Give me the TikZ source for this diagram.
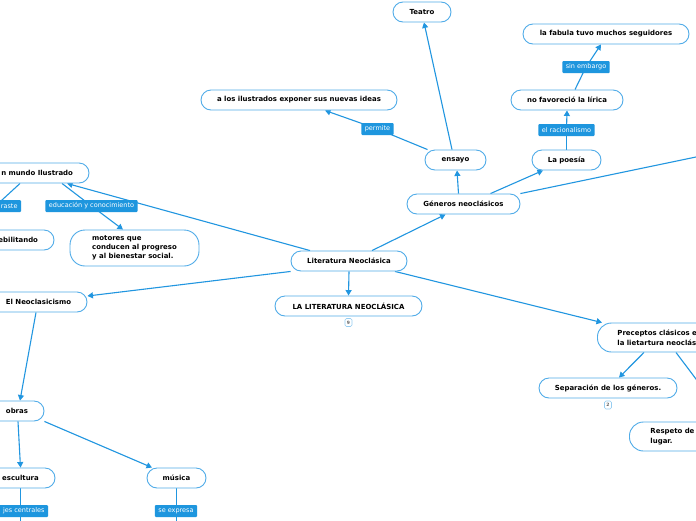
\documentclass[tikz,border=0pt]{standalone}
\usepackage{fontspec}
\setmainfont{DejaVu Sans}
\usetikzlibrary{arrows.meta,backgrounds}
\definecolor{nodeb}{RGB}{80,172,232}
\definecolor{linec}{RGB}{33,150,224}
\definecolor{labf}{RGB}{30,150,222}
\begin{document}
\begin{tikzpicture}[x=1pt,y=-1pt,
  box/.style={draw=nodeb, line width=0.9pt, fill=white, rounded corners=10pt, minimum height=20pt, inner xsep=8pt, inner ysep=0pt, font=\fontsize{6.95}{8}\selectfont\bfseries, text=black},
  lab/.style={fill=labf, text=white, rounded corners=1pt, minimum height=12pt, inner xsep=3.5pt, inner ysep=0pt, font=\fontsize{6.5}{7}\selectfont},
  conn/.style={draw=linec, line width=1.1pt},
  arr/.style={conn, -{Triangle[length=5.5pt,width=6pt]}},
  badge/.style={draw=nodeb!60, line width=0.6pt, rounded corners=1.5pt, minimum width=7pt, minimum height=8pt, inner sep=0pt, font=\fontsize{4.5}{5}\selectfont\bfseries, text=black!60}]
\useasboundingbox (0,0) rectangle (696,520);
% nodes
\node[box, minimum width=58pt] (tea) at (422,12) {Teatro};
\node[box, minimum width=166pt] (fab) at (606,34) {la fabula tuvo muchos seguidores};
\node[box, minimum width=196pt] (ilu) at (299,100) {a los ilustrados exponer sus nuevas ideas};
\node[box, minimum width=112pt] (nof) at (567,100) {no favoreció la lírica};
\node[box, minimum width=61pt] (ens) at (455.5,160) {ensayo};
\node[box, minimum width=69pt] (poe) at (566.5,160) {La poesía};
\node[box, minimum width=113pt] (gen) at (463.5,204) {Géneros neoclásicos};
\node[box, minimum width=119pt, text width=87pt, align=right, inner xsep=16pt] (mun) at (29.5,173) {n mundo Ilustrado};
\node[box, minimum width=84pt, text width=52pt, align=right, inner xsep=16pt] (deb) at (12,240) {ebilitando};
\node[box, minimum width=129pt, minimum height=36pt, align=left, rounded corners=15pt, font=\fontsize{6.95}{9}\selectfont\bfseries] (mot) at (134.5,248) {motores que\\conducen al progreso\\y al bienestar social.};
\node[box, minimum width=116pt] (lit) at (349,261) {Literatura Neoclásica};
\node[box, minimum width=147pt] (lat) at (348.5,306) {LA LITERATURA NEOCLÁSICA};
\node[badge] (b1) at (348.5,322.5) {9};
\node[box, minimum width=97pt] (neo) at (38.5,302) {El Neoclasicismo};
\node[box, minimum width=163pt, minimum height=29pt, text width=123pt, align=left, inner xsep=20pt, anchor=west, rounded corners=14pt, font=\fontsize{6.95}{10}\selectfont\bfseries] (pre) at (597,337.5) {Preceptos clásicos e\\la lietartura neoclás};
\node[box, minimum width=138pt] (sep) at (608,388) {Separación de los géneros.};
\node[badge] (b2) at (608,405) {2};
\node[box, minimum width=120pt, minimum height=29pt, text width=78pt, align=left, inner xsep=21pt, anchor=west, rounded corners=14pt, font=\fontsize{6.95}{10}\selectfont\bfseries] (res) at (629,436.5) {Respeto de\\lugar.};
\node[box, minimum width=54pt] (obr) at (17,411) {obras};
\node[box, minimum width=69pt] (esc) at (20.5,478) {escultura};
\node[box, minimum width=59pt] (mus) at (176.5,478) {música};
% labels
\node[lab] (per) at (377.5,129) {permite};
\node[lab] (emb) at (586,67) {sin embargo};
\node[lab] (rac) at (566.5,130) {el racionalismo};
\node[lab] (edu) at (91.5,206) {educación y conocimiento};
\node[lab, minimum width=51pt, text width=44pt, align=right] (con) at (-4.5,206) {raste};
\node[lab, minimum width=68pt, text width=61pt, align=right] (eje) at (14,511) {jes centrales};
\node[lab] (sex) at (176,511) {se expresa};
% free ends
\coordinate (gx) at (720,152);
\coordinate (px) at (708,395);
\coordinate (ex) at (20.5,530);
\coordinate (mx) at (176.5,530);
\begin{scope}[on background layer]
\fill[white] (0,0) rectangle (696,520);
\draw[arr] ([xshift=23pt]lit.north) -- ([xshift=-18pt]gen.south);
\draw[arr] ([xshift=-5pt]gen.north) -- ([xshift=1.5pt]ens.south);
\draw[arr] ([xshift=-3.5pt]ens.north) -- ([xshift=2pt]tea.south);
\draw[conn] ([xshift=-28pt]ens.north) -- (per.center);
\draw[arr] (per.center) -- ([xshift=26pt]ilu.south);
\draw[arr] ([xshift=27pt]gen.north) -- ([xshift=-23.5pt]poe.south);
\draw[conn] (poe.north) -- (rac.center);
\draw[arr] (rac.center) -- (nof.south);
\draw[conn] ([xshift=8pt]nof.north) -- (emb.center);
\draw[arr] (emb.center) -- ([xshift=-5pt]fab.south);
\draw[conn] (gen.north east) -- (gx);
\draw[arr] ([xshift=-39pt]lit.north) -- ([xshift=37.5pt]mun.south);
\draw[conn] ([xshift=-9.5pt]mun.south) -- (con.center);
\draw[conn] ([xshift=32.5pt]mun.south) -- (edu.center);
\draw[arr] (edu.center) -- ([xshift=-11.5pt]mot.north);
\draw[arr] (lit.south west) -- ([yshift=6pt]neo.east);
\draw[arr] (lit.south) -- (lat.north);
\draw[arr] ([xshift=46pt]lit.south) -- ([xshift=5pt]pre.north west);
\draw[arr] ([xshift=-2.5pt]neo.south) -- ([xshift=3pt]obr.north);
\draw[arr] ([xshift=1pt]obr.south) -- (esc.north);
\draw[arr] (obr.south east) -- ([xshift=-24.5pt]mus.north);
\draw[conn] (esc.south) -- (ex);
\draw[conn] (mus.south) -- (mx);
\draw[arr] ([xshift=47pt]pre.south west) -- ([xshift=11pt]sep.north);
\draw[conn] ([xshift=79pt]pre.south west) -- (px);
\end{scope}
\end{tikzpicture}
\end{document}
